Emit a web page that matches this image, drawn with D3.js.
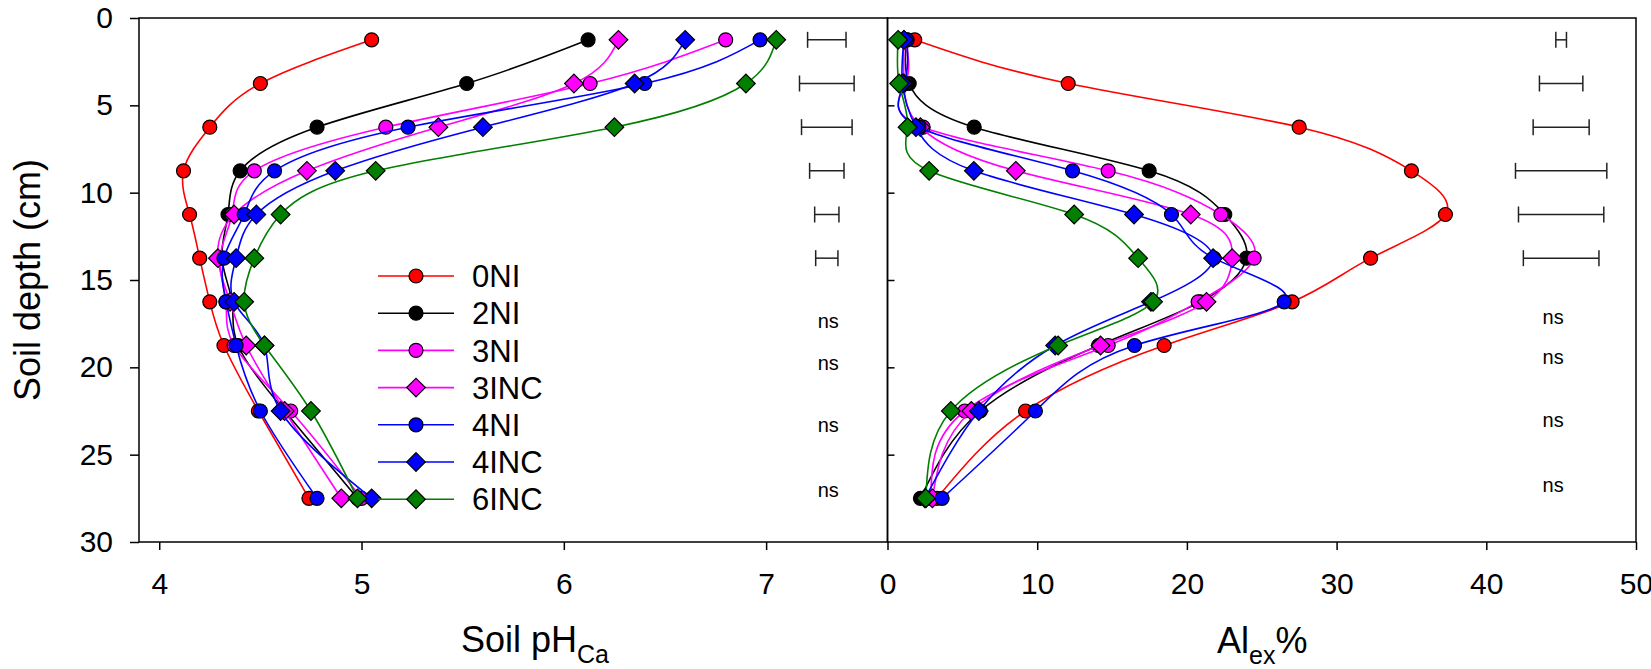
<!DOCTYPE html>
<html>
<head>
<meta charset="utf-8">
<script src="https://cdn.jsdelivr.net/npm/d3@7"></script>
<style>
  html, body { margin: 0; padding: 0; background: #fff; }
  svg { display: block; font-family: "Liberation Sans", Arial, Helvetica, sans-serif; }
</style>
</head>
<body>
<svg id="chart" width="1651" height="669"></svg>
<script>
// ---------------- data ----------------
const depths = [1.25, 3.75, 6.25, 8.75, 11.25, 13.75, 16.25, 18.75, 22.5, 27.5];

const seriesNames = ["0NI", "2NI", "3NI", "3INC", "4NI", "4INC", "6INC"];
const seriesColors = ["#ff0000", "#000000", "#ff00ff", "#ff00ff", "#0000ff", "#0000ff", "#007f00"];
const seriesShapes = ["circle", "circle", "circle", "diamond", "circle", "diamond", "diamond"];

// Soil pH (CaCl2) by depth
const ph0NI  = [5.05, 4.50, 4.25, 4.12, 4.15, 4.20, 4.25, 4.32, 4.49, 4.74];
const ph2NI  = [6.12, 5.52, 4.78, 4.40, 4.34, 4.31, 4.36, 4.39, 4.62, 4.98];
const ph3NI  = [6.80, 6.13, 5.12, 4.47, 4.36, 4.30, 4.33, 4.37, 4.65, 5.00];
const ph3INC = [6.27, 6.05, 5.38, 4.73, 4.37, 4.29, 4.35, 4.43, 4.62, 4.90];
const ph4NI  = [6.97, 6.40, 5.23, 4.57, 4.42, 4.32, 4.33, 4.38, 4.50, 4.78];
const ph4INC = [6.60, 6.35, 5.60, 4.87, 4.48, 4.38, 4.37, 4.52, 4.60, 5.05];
const ph6INC = [7.05, 6.90, 6.25, 5.07, 4.60, 4.47, 4.42, 4.52, 4.75, 4.98];

// Exchangeable Al % by depth
const al0NI  = [1.82, 12.07, 27.5, 35.0, 37.27, 32.27, 27.03, 18.48, 9.22, 3.3];
const al2NI  = [1.3, 1.45, 5.79, 17.48, 22.53, 23.98, 20.9, 14.1, 6.2, 2.2];
const al3NI  = [1.2, 1.2, 2.38, 14.74, 22.27, 24.49, 20.75, 14.74, 5.16, 2.9];
const al3INC = [1.1, 1.1, 2.2, 8.57, 20.26, 23.02, 21.31, 14.23, 5.6, 3.0];
const al4NI  = [1.3, 1.1, 2.1, 12.36, 18.97, 21.8, 26.5, 16.5, 9.88, 3.65];
const al4INC = [1.1, 1.0, 1.9, 5.77, 16.47, 21.75, 17.6, 11.2, 6.1, 2.5];
const al6INC = [0.71, 0.78, 1.34, 2.78, 12.47, 16.74, 17.74, 11.4, 4.23, 2.56];

// LSD bars (top six depths) and "ns" labels
const lsdDepths = [1.25, 3.75, 6.25, 8.75, 11.25, 13.75];
const lsdPh = [0.19, 0.27, 0.25, 0.17, 0.12, 0.11];
const lsdPhCenter = 7.30;
const lsdAl = [0.71, 2.9, 3.74, 6.1, 5.7, 5.05];
const lsdAlCenter = 45.0;
const nsLeftDepths = [17.33, 19.75, 23.33, 27.04];
const nsRightDepths = [17.10, 19.39, 23.0, 26.74];

const yTicks = [0, 5, 10, 15, 20, 25, 30];
const xTicksPh = [4, 5, 6, 7];
const xTicksAl = [0, 10, 20, 30, 40, 50];

// ---------------- layout ----------------
const svg = d3.select("#chart");
const plotTop = 18, plotBottom = 542;
const leftX0 = 139, midX = 887.5, rightX1 = 1636;

const y = d3.scaleLinear().domain([0, 30]).range([plotTop, plotBottom]);
const xL = d3.scaleLinear().domain([3.9, 7.6]).range([leftX0, midX]);
const xR = d3.scaleLinear().domain([0, 50]).range([midX, rightX1]);

const phSeries = [ph0NI, ph2NI, ph3NI, ph3INC, ph4NI, ph4INC, ph6INC];
const alSeries = [al0NI, al2NI, al3NI, al3INC, al4NI, al4INC, al6INC];

// ---------------- axes ----------------
function styleAxis(g, fontSize) {
  g.select(".domain").remove();
  g.selectAll(".tick line").attr("stroke", "#000").attr("stroke-width", 1.5);
  g.selectAll(".tick text").attr("fill", "#000").style("font-size", fontSize + "px")
    .style("font-family", '"Liberation Sans", Arial, sans-serif');
}

svg.append("g").attr("transform", `translate(${leftX0},0)`)
  .call(d3.axisLeft(y).tickValues(yTicks).tickSize(9).tickPadding(17).tickFormat(d3.format("d")))
  .call(g => styleAxis(g, 30));

svg.append("g").attr("transform", `translate(${midX},0)`)
  .call(d3.axisRight(y).tickValues([5, 10, 15, 20, 25]).tickSize(7).tickFormat(""))
  .call(g => styleAxis(g, 30));

svg.append("g").attr("transform", `translate(0,${plotBottom})`)
  .call(d3.axisBottom(xL).tickValues(xTicksPh).tickSize(8).tickPadding(23).tickFormat(d3.format("d")))
  .call(g => styleAxis(g, 30));

svg.append("g").attr("transform", `translate(0,${plotBottom})`)
  .call(d3.axisBottom(xR).tickValues(xTicksAl).tickSize(8).tickPadding(23).tickFormat(d3.format("d")))
  .call(g => styleAxis(g, 30));

// frames
svg.append("rect").attr("x", leftX0).attr("y", plotTop).attr("width", midX - leftX0).attr("height", plotBottom - plotTop)
  .attr("fill", "none").attr("stroke", "#000").attr("stroke-width", 1.5);
svg.append("rect").attr("x", midX).attr("y", plotTop).attr("width", rightX1 - midX).attr("height", plotBottom - plotTop)
  .attr("fill", "none").attr("stroke", "#000").attr("stroke-width", 1.5);

// ---------------- series ----------------
const diamond = d3.symbol().type(d3.symbolSquare).size(13.2 * 13.2);

function drawMarker(g, shape, color, cx, cy) {
  if (shape === "circle") {
    g.append("circle").attr("cx", cx).attr("cy", cy).attr("r", 7)
      .attr("fill", color).attr("stroke", "#000").attr("stroke-width", 1.2);
  } else {
    g.append("path").attr("d", diamond())
      .attr("transform", `translate(${cx},${cy}) rotate(45)`)
      .attr("fill", color).attr("stroke", "#000").attr("stroke-width", 1.2);
  }
}

function drawPanel(xScale, dataArr) {
  const g = svg.append("g");
  dataArr.forEach((vals, i) => {
    const pts = vals.map((v, j) => [xScale(v), y(depths[j])]);
    const line = d3.line().curve(d3.curveNatural);
    g.append("path").attr("d", line(pts)).attr("fill", "none")
      .attr("stroke", seriesColors[i]).attr("stroke-width", 1.6);
    pts.forEach(p => drawMarker(g, seriesShapes[i], seriesColors[i], p[0], p[1]));
  });
}
drawPanel(xL, phSeries);
drawPanel(xR, alSeries);

// ---------------- LSD bars ----------------
function drawLsd(xScale, center, lsd) {
  const g = svg.append("g").attr("stroke", "#222").attr("stroke-width", 1.5);
  lsd.forEach((w, i) => {
    const cy = y(lsdDepths[i]);
    const x0 = xScale(center - w / 2), x1 = xScale(center + w / 2);
    g.append("line").attr("x1", x0).attr("x2", x1).attr("y1", cy).attr("y2", cy);
    g.append("line").attr("x1", x0).attr("x2", x0).attr("y1", cy - 8).attr("y2", cy + 8);
    g.append("line").attr("x1", x1).attr("x2", x1).attr("y1", cy - 8).attr("y2", cy + 8);
  });
}
drawLsd(xL, lsdPhCenter, lsdPh);
drawLsd(xR, lsdAlCenter, lsdAl);

function drawNs(xPos, ds) {
  svg.append("g").selectAll("text").data(ds).join("text")
    .attr("x", xPos).attr("y", d => y(d)).attr("dy", "0.35em")
    .attr("text-anchor", "middle").style("font-size", "20px").attr("fill", "#000")
    .text("ns");
}
drawNs(xL(lsdPhCenter) + 1.5, nsLeftDepths);
drawNs(xR(lsdAlCenter) - 8, nsRightDepths);

// ---------------- legend ----------------
const legend = svg.append("g");
seriesNames.forEach((name, i) => {
  const ly = 276 + i * 37.2;
  legend.append("line").attr("x1", 378).attr("x2", 454).attr("y1", ly).attr("y2", ly)
    .attr("stroke", seriesColors[i]).attr("stroke-width", 1.6);
  drawMarker(legend, seriesShapes[i], seriesColors[i], 416, ly);
  legend.append("text").attr("x", 472).attr("y", ly).attr("dy", "0.36em")
    .style("font-size", "31px").attr("fill", "#000").text(name);
});

// ---------------- axis titles ----------------
svg.append("text").attr("transform", "translate(40,280) rotate(-90)")
  .attr("text-anchor", "middle").style("font-size", "36px").attr("fill", "#000")
  .text("Soil depth (cm)");

const t1 = svg.append("text").attr("x", 461).attr("y", 652).style("font-size", "36px").attr("fill", "#000");
t1.append("tspan").text("Soil pH");
t1.append("tspan").attr("dy", 11).style("font-size", "25px").text("Ca");

const t2 = svg.append("text").attr("x", 1217).attr("y", 653).style("font-size", "36px").attr("fill", "#000");
t2.append("tspan").text("Al");
t2.append("tspan").attr("dy", 11).style("font-size", "25px").text("ex");
t2.append("tspan").attr("dy", -11).text("%");
</script>
</body>
</html>
